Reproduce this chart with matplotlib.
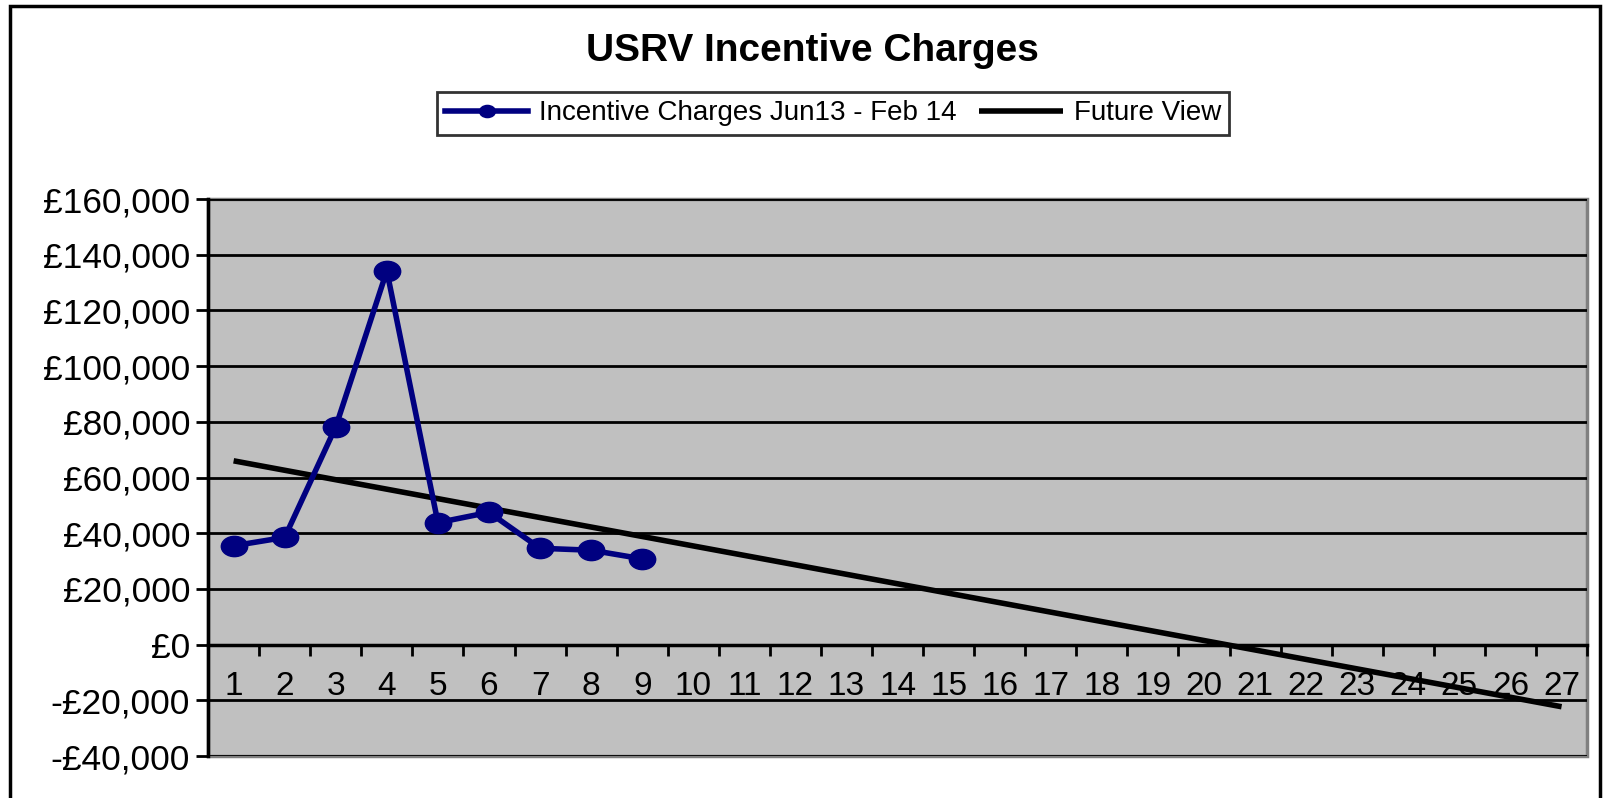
import matplotlib
matplotlib.use("Agg")
import matplotlib.pyplot as plt
from matplotlib.patches import Rectangle
from matplotlib.path import Path
from matplotlib.transforms import Affine2D
from matplotlib.ticker import FuncFormatter

# ---- data ----
categories = list(range(1, 28))
incentive_x = [1, 2, 3, 4, 5, 6, 7, 8, 9]
incentive_charges = [35500, 38500, 78200, 134200, 43800, 47500, 34600, 33900, 30800]
future_x = [1, 27]
future_view = [66000, -22300]
y_ticks = [-40000, -20000, 0, 20000, 40000, 60000, 80000, 100000, 120000, 140000, 160000]
title_text = "USRV Incentive Charges"
label_incentive = "Incentive Charges Jun13 - Feb 14"
label_future = "Future View"

plt.rcParams['font.family'] = ['Liberation Sans', 'DejaVu Sans']

fig = plt.figure(figsize=(16.08, 7.98), dpi=100)
ax = fig.add_axes([0.1294, 0.0526, 0.987 - 0.1294, 0.7506 - 0.0526])

navy = '#000080'
ax.set_facecolor('#C0C0C0')

ellipse = Path.unit_circle().transformed(Affine2D().scale(1.3, 1.0))

ax.set_ylim(min(y_ticks), max(y_ticks))
ax.set_yticks(y_ticks)
ax.yaxis.grid(True, color='black', lw=2)
ax.set_axisbelow(True)

ax.plot(future_x, future_view, color='black', lw=4, solid_capstyle='butt',
        label=label_future, zorder=3)
ax.plot(incentive_x, incentive_charges, color=navy, lw=4, marker=ellipse,
        markersize=19, markerfacecolor=navy, markeredgecolor=navy,
        label=label_incentive, zorder=4)

ax.set_xlim(0.5, len(categories) + 0.5)
ax.set_xticks(categories)
ax.set_xticklabels([str(c) for c in categories])
ax.set_xticks([c + 0.5 for c in [0] + categories], minor=True)
ax.tick_params(axis='x', which='major', length=0, pad=19, labelsize=24)
ax.tick_params(axis='x', which='minor', length=8, width=2, direction='out', color='black')

ax.yaxis.set_major_formatter(FuncFormatter(
    lambda v, p: ('-£{:,.0f}'.format(-v) if v < 0 else '£{:,.0f}'.format(v))))
ax.tick_params(axis='y', which='major', length=9, width=2, direction='out',
               pad=4, labelsize=25.5, color='black')

for s in ['top', 'right']:
    ax.spines[s].set_visible(False)
ax.spines['left'].set_color('black')
ax.spines['left'].set_linewidth(2.5)
ax.spines['bottom'].set_position(('data', 0))
ax.spines['bottom'].set_color('black')
ax.spines['bottom'].set_linewidth(2.5)

ax.add_patch(Rectangle((0, 0), 1, 1, transform=ax.transAxes, fill=False,
                       edgecolor='#808080', lw=2.5, clip_on=False, zorder=0.5))

fig.patches.append(Rectangle((0.006, -0.05), 0.989, 0.9925 + 0.05,
                             transform=fig.transFigure, fill=False,
                             edgecolor='black', lw=2.5))

fig.text(0.505, 0.936, title_text, ha='center', va='center',
         fontsize=28, fontweight='bold')

handles, labels = ax.get_legend_handles_labels()
leg = fig.legend(handles[::-1], labels[::-1], loc='center', ncol=2,
                 bbox_to_anchor=(0.518, 0.858), fontsize=20, frameon=True,
                 fancybox=False, edgecolor='black', markerscale=0.6,
                 handlelength=3.0, handletextpad=0.4, columnspacing=0.8,
                 borderpad=0.3)
leg.get_frame().set_linewidth(2)

fig.savefig('out.png', dpi=100)
